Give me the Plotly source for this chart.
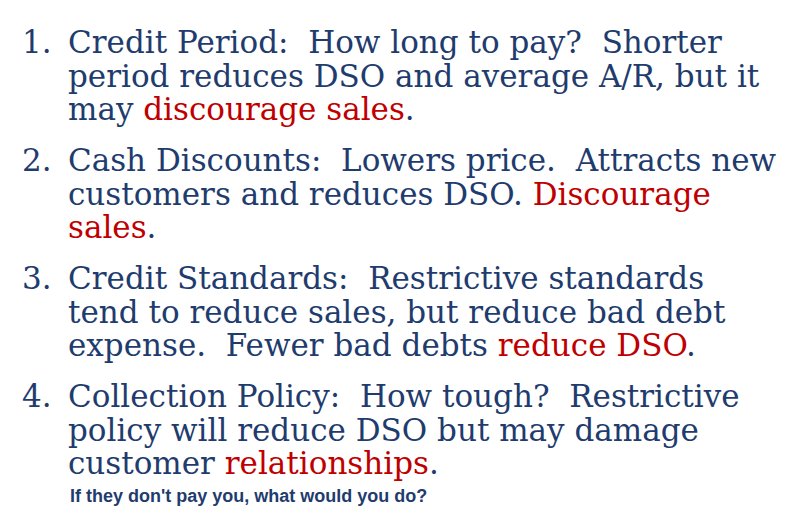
import plotly.graph_objects as go

NAVY = "#1F3C6E"
RED = "#C00000"

numbers = ["1.", "2.", "3.", "4."]
items = [
    ["Credit Period:  How long to pay?  Shorter",
     "period reduces DSO and average A/R, but it",
     "may <span style='color:%s'>discourage sales</span>." % RED],
    ["Cash Discounts:  Lowers price.  Attracts new",
     "customers and reduces DSO. <span style='color:%s'>Discourage</span>" % RED,
     "<span style='color:%s'>sales</span>." % RED],
    ["Credit Standards:  Restrictive standards",
     "tend to reduce sales, but reduce bad debt",
     "expense.  Fewer bad debts <span style='color:%s'>reduce DSO</span>." % RED],
    ["Collection Policy:  How tough?  Restrictive",
     "policy will reduce DSO but may damage",
     "customer <span style='color:%s'>relationships</span>." % RED],
]
item_tops = [34, 152, 270, 388]
line_gap = 33.5
footer = "If they don't pay you, what would you do?"

fig = go.Figure()
serif = dict(family="DejaVu Serif, Liberation Serif, serif", size=31, color=NAVY)

for num, lines, top in zip(numbers, items, item_tops):
    fig.add_annotation(x=12, y=top, text=num, showarrow=False, xanchor="left",
                       yanchor="middle", font=serif)
    for i, ln in enumerate(lines):
        fig.add_annotation(x=58, y=top + i * line_gap, text=ln, showarrow=False,
                           xanchor="left", yanchor="middle", font=serif)

fig.add_annotation(x=60, y=488, text="<b>%s</b>" % footer, showarrow=False,
                   xanchor="left", yanchor="middle",
                   font=dict(family="Liberation Sans, Arial, sans-serif", size=18, color=NAVY))

fig.update_xaxes(range=[0, 792], visible=False)
fig.update_yaxes(range=[519, 0], visible=False)
fig.update_layout(width=792, height=519, margin=dict(l=0, r=0, t=0, b=0),
                  plot_bgcolor="white", paper_bgcolor="white", showlegend=False)
fig.write_html("out.html")
